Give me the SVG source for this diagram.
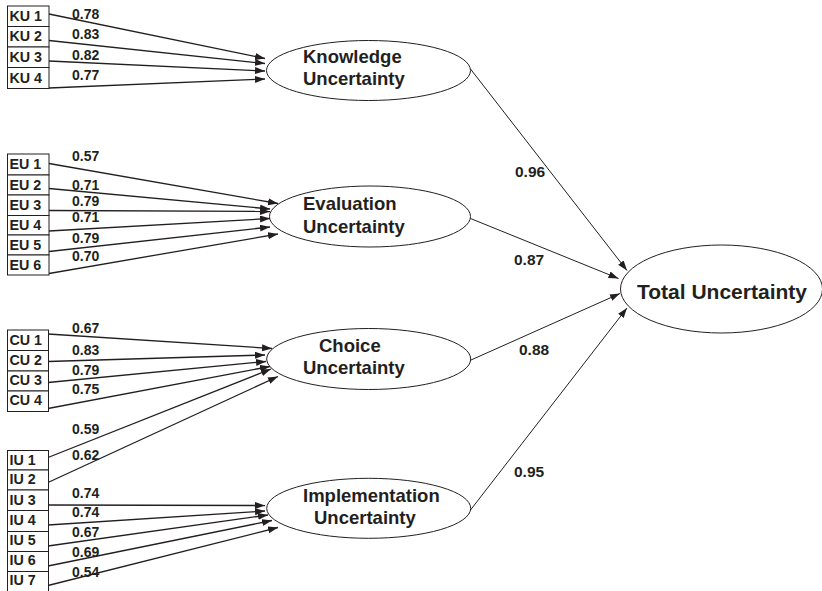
<svg xmlns="http://www.w3.org/2000/svg" width="822" height="591" viewBox="0 0 822 591">
<defs>
<marker id="ah" markerUnits="userSpaceOnUse" markerWidth="11" markerHeight="8" refX="10" refY="3.5" orient="auto">
<path d="M0,0 L10,3.5 L0,7 z" fill="#231f20"/>
</marker>
<style>
text{font-family:"Liberation Sans",Arial,sans-serif;font-weight:bold;fill:#231f20}
.box{fill:#fff;stroke:#231f20;stroke-width:1}
.bl{font-size:14.3px}
.w{font-size:14px}
.lat{fill:#fff;stroke:#231f20;stroke-width:1}
.lt{font-size:18.5px}
.pl{font-size:15.5px}
.c line{stroke:#231f20;stroke-width:1.3;marker-end:url(#ah)}
.c .s{stroke-width:1}
</style>
</defs>
<rect width="822" height="591" fill="#fff"/>
<g class="c" id="connectors">
<line x1="49" y1="14" x2="265" y2="58.5"/>
<line x1="49" y1="40.5" x2="265" y2="63.5"/>
<line x1="49" y1="61" x2="265" y2="71"/>
<line x1="49" y1="88" x2="265" y2="79"/>
<line x1="49" y1="163.5" x2="278" y2="203.5"/>
<line x1="49" y1="188.5" x2="270" y2="209"/>
<line x1="49" y1="210.5" x2="270" y2="211.5"/>
<line x1="49" y1="231" x2="270" y2="218.5"/>
<line x1="49" y1="251.5" x2="270" y2="227"/>
<line x1="49" y1="273.5" x2="278" y2="234"/>
<line x1="48" y1="334" x2="272" y2="348.5"/>
<line x1="48" y1="361.5" x2="265" y2="355"/>
<line x1="48" y1="382.5" x2="266" y2="361.5"/>
<line x1="48" y1="408.5" x2="270" y2="366.5"/>
<line x1="48" y1="457.5" x2="271" y2="369"/>
<line x1="48" y1="482.5" x2="278" y2="376.5"/>
<line x1="48" y1="505" x2="265" y2="505.5"/>
<line x1="48" y1="525" x2="265" y2="511"/>
<line x1="48" y1="546" x2="268" y2="515"/>
<line x1="48" y1="566" x2="272" y2="520.5"/>
<line x1="48" y1="585.5" x2="278" y2="527.5"/>
<line class="s" x1="470.5" y1="69" x2="627" y2="270.5"/>
<line class="s" x1="470.5" y1="218.5" x2="618.5" y2="278.5"/>
<line class="s" x1="471" y1="360" x2="620" y2="293.5"/>
<line class="s" x1="470.5" y1="510" x2="627" y2="308"/>
</g>
<g id="labels">
<text class="w" x="72" y="18.5">0.78</text>
<text class="w" x="72" y="38.5">0.83</text>
<text class="w" x="72" y="59.5">0.82</text>
<text class="w" x="72" y="79.5">0.77</text>
<text class="w" x="72" y="161">0.57</text>
<text class="w" x="72" y="189.5">0.71</text>
<text class="w" x="72" y="206">0.79</text>
<text class="w" x="72" y="222">0.71</text>
<text class="w" x="72" y="243">0.79</text>
<text class="w" x="72" y="261">0.70</text>
<text class="w" x="72" y="333">0.67</text>
<text class="w" x="72" y="354.5">0.83</text>
<text class="w" x="72" y="374.5">0.79</text>
<text class="w" x="72" y="393.5">0.75</text>
<text class="w" x="72" y="433.5">0.59</text>
<text class="w" x="72" y="460">0.62</text>
<text class="w" x="72" y="497.5">0.74</text>
<text class="w" x="72" y="517">0.74</text>
<text class="w" x="72" y="537">0.67</text>
<text class="w" x="72" y="557">0.69</text>
<text class="w" x="72" y="577">0.54</text>
<text class="pl" x="515" y="177">0.96</text>
<text class="pl" x="514" y="265">0.87</text>
<text class="pl" x="519" y="355">0.88</text>
<text class="pl" x="514" y="477">0.95</text>
</g>
<g id="KU1"><rect class="box" x="7.5" y="6" width="41.5" height="20.5"/><text class="bl" x="9.5" y="21">KU 1</text></g>
<g id="KU2"><rect class="box" x="7.5" y="26.5" width="41.5" height="20.5"/><text class="bl" x="9.5" y="41">KU 2</text></g>
<g id="KU3"><rect class="box" x="7.5" y="47" width="41.5" height="20.5"/><text class="bl" x="9.5" y="62">KU 3</text></g>
<g id="KU4"><rect class="box" x="7.5" y="67.5" width="41.5" height="21"/><text class="bl" x="9.5" y="83">KU 4</text></g>
<g id="EU1"><rect class="box" x="7.5" y="154" width="41.5" height="21"/><text class="bl" x="9.5" y="169">EU 1</text></g>
<g id="EU2"><rect class="box" x="7.5" y="175" width="41.5" height="20"/><text class="bl" x="9.5" y="189.5">EU 2</text></g>
<g id="EU3"><rect class="box" x="7.5" y="195" width="41.5" height="20.5"/><text class="bl" x="9.5" y="210">EU 3</text></g>
<g id="EU4"><rect class="box" x="7.5" y="215.5" width="41.5" height="19.5"/><text class="bl" x="9.5" y="230">EU 4</text></g>
<g id="EU5"><rect class="box" x="7.5" y="235" width="41.5" height="20"/><text class="bl" x="9.5" y="250">EU 5</text></g>
<g id="EU6"><rect class="box" x="7.5" y="255" width="41.5" height="20"/><text class="bl" x="9.5" y="270">EU 6</text></g>
<g id="CU1"><rect class="box" x="7.5" y="330" width="41" height="20.5"/><text class="bl" x="9.5" y="344.5">CU 1</text></g>
<g id="CU2"><rect class="box" x="7.5" y="350.5" width="41" height="20.5"/><text class="bl" x="9.5" y="364.5">CU 2</text></g>
<g id="CU3"><rect class="box" x="7.5" y="371" width="41" height="20"/><text class="bl" x="9.5" y="385">CU 3</text></g>
<g id="CU4"><rect class="box" x="7.5" y="391" width="41" height="20.5"/><text class="bl" x="9.5" y="404.5">CU 4</text></g>
<g id="IU1"><rect class="box" x="7.5" y="450.5" width="41" height="19.5"/><text class="bl" x="9.5" y="464.5">IU 1</text></g>
<g id="IU2"><rect class="box" x="7.5" y="470" width="41" height="20"/><text class="bl" x="9.5" y="484">IU 2</text></g>
<g id="IU3"><rect class="box" x="7.5" y="490" width="41" height="20.5"/><text class="bl" x="9.5" y="504.5">IU 3</text></g>
<g id="IU4"><rect class="box" x="7.5" y="510.5" width="41" height="21"/><text class="bl" x="9.5" y="525">IU 4</text></g>
<g id="IU5"><rect class="box" x="7.5" y="531.5" width="41" height="20"/><text class="bl" x="9.5" y="545">IU 5</text></g>
<g id="IU6"><rect class="box" x="7.5" y="551.5" width="41" height="20"/><text class="bl" x="9.5" y="565">IU 6</text></g>
<g id="IU7"><rect class="box" x="7.5" y="571.5" width="41" height="21"/><text class="bl" x="9.5" y="585">IU 7</text></g>
<g id="knowledge"><ellipse class="lat" cx="368.5" cy="70.5" rx="102" ry="30"/><text class="lt" x="303" y="62.5">Knowledge</text><text class="lt" x="303" y="85">Uncertainty</text></g>
<g id="evaluation"><ellipse class="lat" cx="370" cy="216.5" rx="100.5" ry="30.5"/><text class="lt" x="303" y="210">Evaluation</text><text class="lt" x="303" y="232.5">Uncertainty</text></g>
<g id="choice"><ellipse class="lat" cx="368.7" cy="359" rx="102" ry="30.5"/><text class="lt" x="319" y="351.5">Choice</text><text class="lt" x="303" y="374">Uncertainty</text></g>
<g id="implementation"><ellipse class="lat" cx="368.7" cy="508.3" rx="102" ry="30"/><text class="lt" x="303" y="501.5">Implementation</text><text class="lt" x="314" y="524">Uncertainty</text></g>
<g id="total"><ellipse class="lat" cx="721.5" cy="289" rx="101" ry="44"/><text x="637" y="298.5" style="font-size:21px">Total Uncertainty</text></g>
</svg>
